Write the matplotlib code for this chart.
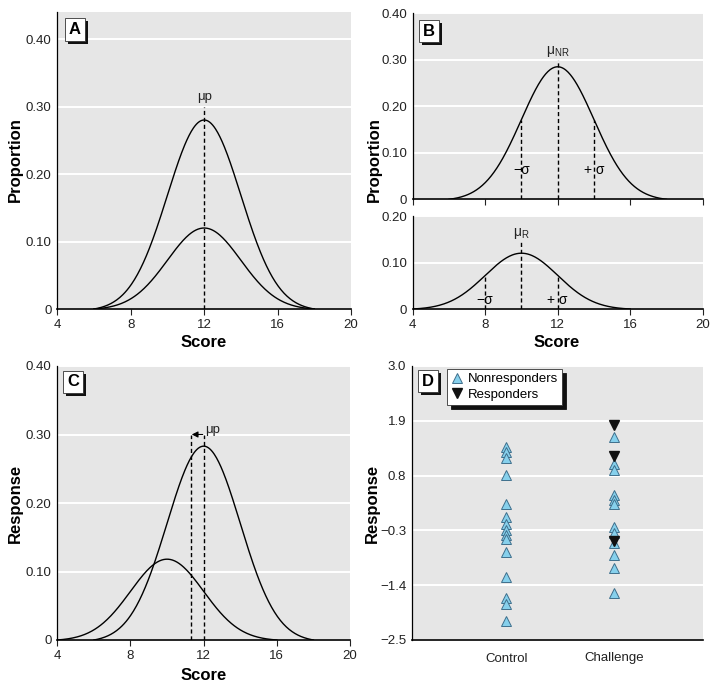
import numpy as np
import matplotlib
matplotlib.use('Agg')
import matplotlib.pyplot as plt
from matplotlib.patches import Rectangle
from matplotlib.lines import Line2D

plt.rcParams['font.family'] = ['Liberation Sans', 'DejaVu Sans']
plt.rcParams['mathtext.fontset'] = 'custom'
plt.rcParams['mathtext.rm'] = 'Liberation Sans'

# bell curve parameters (mean, sd, peak height)
a_means = [12, 12]
a_sds = [2, 2]
a_peaks = [0.28, 0.12]

b_nr_mean, b_nr_sd, b_nr_peak = 12, 2, 0.285
b_r_mean, b_r_sd, b_r_peak = 10, 2, 0.12

c_means = [12, 10]
c_sds = [2, 2]
c_peaks = [0.283, 0.118]
c_shifted_mean = 11.3

# panel D responses
groups = ['Control', 'Challenge']
control_nonresp = [1.38, 1.27, 1.15, 0.81, 0.23, -0.03, -0.18, -0.29, -0.39,
                   -0.48, -0.73, -1.23, -1.66, -1.78, -2.12]
challenge_nonresp = [1.58, 1.03, 0.91, 0.41, 0.32, 0.23, -0.23, -0.35, -0.56,
                     -0.80, -1.06, -1.56]
challenge_resp = [1.82, 1.20, -0.51]

W, H = 715, 690
BG = '#e6e6e6'


def fig_rect(x0, y0, x1, y1):
    return [x0 / W, 1 - y1 / H, (x1 - x0) / W, (y1 - y0) / H]


def bell(mu, sd, peak):
    # truncated at +-3 sd so it meets zero, as in the figure
    x = np.linspace(mu - 3 * sd, mu + 3 * sd, 300)
    base = np.exp(-4.5)
    y = peak * (np.exp(-(x - mu) ** 2 / (2 * sd ** 2)) - base) / (1 - base)
    return x, y


def style(ax, yticks, ylabels, ylim, xlabels=True):
    ax.set_facecolor(BG)
    for s in ['top', 'right']:
        ax.spines[s].set_visible(False)
    ax.spines['left'].set_linewidth(0.9)
    ax.spines['bottom'].set_linewidth(1.2)
    ax.set_xlim(4, 20)
    ax.set_ylim(*ylim)
    ax.set_xticks([4, 8, 12, 16, 20])
    if not xlabels:
        ax.set_xticklabels([])
    ax.set_yticks(yticks)
    ax.set_yticklabels(ylabels)
    ax.yaxis.grid(True, color='white', lw=1.4)
    ax.set_axisbelow(True)
    ax.tick_params(axis='y', length=0, labelsize=9.5, pad=4, colors='#222222')
    ax.tick_params(axis='x', length=4, width=0.8, direction='out', labelsize=9.5,
                   pad=3, colors='#222222')


def panel_box(x0, y0, w, h, letter):
    fig.add_artist(Rectangle(((x0 + 3) / W, 1 - (y0 + h + 3) / H), w / W, h / H,
                             transform=fig.transFigure, fc='#111111', ec='none', zorder=5))
    fig.add_artist(Rectangle((x0 / W, 1 - (y0 + h) / H), w / W, h / H,
                             transform=fig.transFigure, fc='white', ec='#333333',
                             lw=0.6, zorder=6))
    fig.text((x0 + w / 2) / W, 1 - (y0 + h / 2) / H, letter, ha='center', va='center',
             fontsize=12, fontweight='bold', zorder=7)


fig = plt.figure(figsize=(7.15, 6.9), dpi=100)

yt4 = [0, 0.1, 0.2, 0.3, 0.4]
yl4 = ['0', '0.10', '0.20', '0.30', '0.40']
dash = (0, (3, 2))

# A
axA = fig.add_axes(fig_rect(57.3, 12, 351, 309))
style(axA, yt4, yl4, (0, 0.44))
for m, s, p in zip(a_means, a_sds, a_peaks):
    x, y = bell(m, s, p)
    axA.plot(x, y, color='black', lw=1)
axA.plot([a_means[0], a_means[0]], [0, 0.30], ls=dash, color='black', lw=1)
axA.text(a_means[0], 0.305, 'μp', ha='center', va='bottom', fontsize=9.5, color='#222222')

# B upper
axB1 = fig.add_axes(fig_rect(412.7, 13.3, 702.7, 199.3))
style(axB1, yt4, yl4, (0, 0.40), xlabels=False)
x, y = bell(b_nr_mean, b_nr_sd, b_nr_peak)
axB1.plot(x, y, color='black', lw=1)
axB1.plot([b_nr_mean, b_nr_mean], [0, 0.30], ls=dash, color='black', lw=1)
for k in (-1, 1):
    xs = b_nr_mean + k * b_nr_sd
    ys = np.interp(xs, x, y)
    axB1.plot([xs, xs], [0, ys], ls=dash, color='black', lw=1)
axB1.text(b_nr_mean, 0.302, 'μ$_{\\rm NR}$', ha='center', va='bottom', fontsize=10,
          color='#222222')
axB1.text(b_nr_mean - b_nr_sd, 0.063, '−σ', ha='center', va='center', fontsize=10)
axB1.text(b_nr_mean + b_nr_sd, 0.063, '+ σ', ha='center', va='center', fontsize=10)

# B lower
axB2 = fig.add_axes(fig_rect(412.7, 216, 702.7, 309))
style(axB2, [0, 0.1, 0.2], ['0', '0.10', '0.20'], (0, 0.20))
x, y = bell(b_r_mean, b_r_sd, b_r_peak)
axB2.plot(x, y, color='black', lw=1)
axB2.plot([b_r_mean, b_r_mean], [0, 0.145], ls=dash, color='black', lw=1)
for k in (-1, 1):
    xs = b_r_mean + k * b_r_sd
    ys = np.interp(xs, x, y)
    axB2.plot([xs, xs], [0, ys], ls=dash, color='black', lw=1)
axB2.text(b_r_mean, 0.146, 'μ$_{\\rm R}$', ha='center', va='bottom', fontsize=10,
          color='#222222')
axB2.text(b_r_mean - b_r_sd, 0.02, '−σ', ha='center', va='center', fontsize=10)
axB2.text(b_r_mean + b_r_sd, 0.02, '+ σ', ha='center', va='center', fontsize=10)

# C
axC = fig.add_axes(fig_rect(57.3, 366, 350, 640))
style(axC, yt4, yl4, (0, 0.40))
for m, s, p in zip(c_means, c_sds, c_peaks):
    x, y = bell(m, s, p)
    axC.plot(x, y, color='black', lw=1)
for xs in (c_shifted_mean, c_means[0]):
    axC.plot([xs, xs], [0, 0.30], ls=dash, color='black', lw=1)
axC.annotate('', xy=(c_shifted_mean + 0.05, 0.30), xytext=(c_means[0] - 0.05, 0.30),
             arrowprops=dict(arrowstyle='-|>', color='black', lw=0.8,
                             mutation_scale=9, shrinkA=0, shrinkB=0))
axC.text(c_means[0] + 0.1, 0.298, 'μp', ha='left', va='bottom', fontsize=9.5,
         color='#222222')

# D
axD = fig.add_axes(fig_rect(411.7, 366, 703, 640))
axD.set_facecolor(BG)
for s in ['top', 'right']:
    axD.spines[s].set_visible(False)
axD.spines['left'].set_linewidth(0.9)
axD.spines['bottom'].set_linewidth(1.2)
axD.set_xlim(0.12, 2.83)
axD.set_ylim(-2.5, 3.0)
dticks = [-2.5, -1.4, -0.3, 0.8, 1.9, 3.0]
axD.set_yticks(dticks)
axD.set_yticklabels(['−2.5', '−1.4', '−0.3', '0.8', '1.9', '3.0'])
axD.set_xticks([1, 2])
axD.set_xticklabels(groups)
axD.yaxis.grid(True, color='white', lw=1.4)
axD.set_axisbelow(True)
axD.tick_params(axis='y', length=0, labelsize=9.5, pad=4, colors='#222222')
axD.tick_params(axis='x', length=0, labelsize=9.5, pad=9, colors='#222222')
tri_kw = dict(marker='^', ms=7, mfc='#86d0ec', mec='#3f6f8c', mew=0.7, ls='none')
down_kw = dict(marker='v', ms=7, mfc='#111111', mec='#111111', ls='none')
axD.plot([1] * len(control_nonresp), control_nonresp, **tri_kw)
axD.plot([2] * len(challenge_nonresp), challenge_nonresp, **tri_kw)
axD.plot([2] * len(challenge_resp), challenge_resp, **down_kw)

handles = [Line2D([], [], **tri_kw), Line2D([], [], **down_kw)]
leg = axD.legend(handles, ['Nonresponders', 'Responders'], loc='upper left',
                 bbox_to_anchor=(447 / W, 1 - 369 / H), bbox_transform=fig.transFigure,
                 borderaxespad=0, fancybox=False, framealpha=1, edgecolor='#333333',
                 fontsize=9.5, handlelength=0.9, handletextpad=0.35, borderpad=0.3,
                 labelspacing=0.25,
                 shadow={'color': '#111111', 'alpha': 1, 'ox': 3, 'oy': -3})
leg.get_frame().set_linewidth(0.6)

panel_box(65, 18, 20, 23, 'A')
panel_box(419, 20, 20, 22, 'B')
panel_box(63, 371, 20, 22, 'C')
panel_box(418, 370, 20, 22, 'D')

lab = dict(fontsize=12, fontweight='bold', ha='center', va='center')
fig.text(15 / W, 1 - 160 / H, 'Proportion', rotation=90, **lab)
fig.text(374 / W, 1 - 160 / H, 'Proportion', rotation=90, **lab)
fig.text(15 / W, 1 - 503 / H, 'Response', rotation=90, **lab)
fig.text(372 / W, 1 - 503 / H, 'Response', rotation=90, **lab)
fig.text(204 / W, 1 - 343 / H, 'Score', **lab)
fig.text(557 / W, 1 - 343 / H, 'Score', **lab)
fig.text(204 / W, 1 - 675 / H, 'Score', **lab)

fig.savefig('out.png', dpi=100)
